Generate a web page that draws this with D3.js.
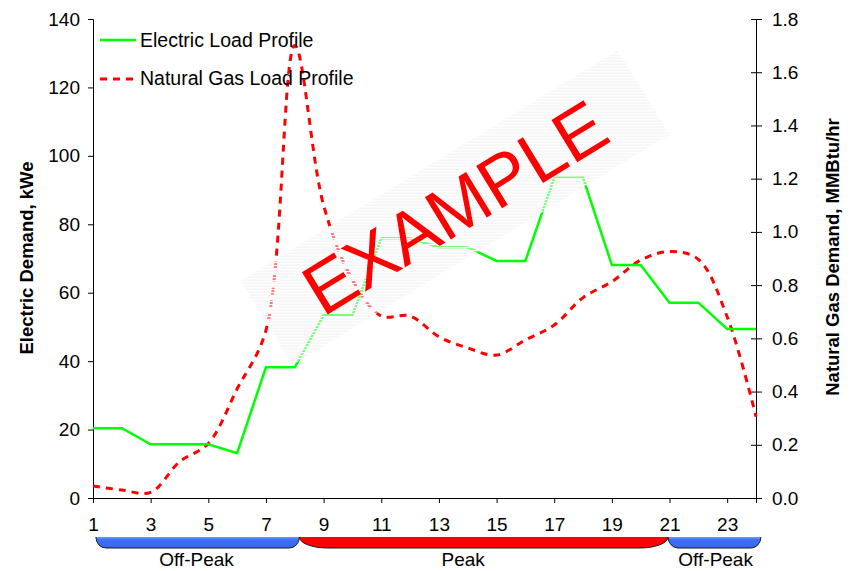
<!DOCTYPE html>
<html>
<head>
<meta charset="UTF-8">
<script src="https://d3js.org/d3.v7.min.js"></script>
<style>
  body { margin: 0; background: #fff; }
  text { font-family: "Liberation Sans", Arial, sans-serif; }
</style>
</head>
<body>
<svg id="canvas"></svg>
<script>
// data
hours = [1,2,3,4,5,6,7,8,9,10,11,12,13,14,15,16,17,18,19,20,21,22,23,24];
electric = [20.4,20.4,15.7,15.7,15.7,13.1,38.2,38.2,53.4,53.4,75.9,75.9,73.3,73.3,69.3,69.3,93.6,93.6,68.1,68.1,57.1,57.1,49.4,49.4];
gas = [0.045,0.030,0.021,0.136,0.205,0.41,0.63,1.70,1.10,0.82,0.684,0.684,0.606,0.564,0.537,0.594,0.65,0.753,0.813,0.894,0.926,0.897,0.681,0.306];

xTicks = [1,3,5,7,9,11,13,15,17,19,21,23];
leftTicks = [0,20,40,60,80,100,120,140];
rightTicks = [0,0.2,0.4,0.6,0.8,1.0,1.2,1.4,1.6,1.8];

periodNames = ["Off-Peak","Peak","Off-Peak"];
periodStart = [1.1, 8.16, 20.95];
periodEnd = [8.16, 20.95, 24.17];
periodLabelAt = [4.59, 13.84, 22.6];

seriesNames = ["Electric Load Profile","Natural Gas Load Profile"];

width = 852;
height = 571;
margin = {left:93, right:96, top:19, bottom:73};

svg = d3.select("#canvas")
    .attr("width", width)
    .attr("height", height);

x = d3.scaleLinear().domain([1,24]).range([margin.left, width - margin.right]);
yL = d3.scaleLinear().domain([0,140]).range([height - margin.bottom, margin.top]);
yR = d3.scaleLinear().domain([0,1.8]).range([height - margin.bottom, margin.top]);

fs = 19;

// axes
gx = svg.append("g")
    .attr("transform", "translate(0," + (height - margin.bottom) + ")")
    .call(d3.axisBottom(x).tickValues(xTicks).tickSizeOuter(0).tickSize(5).tickPadding(15).tickFormat(d3.format("d")));

gl = svg.append("g")
    .attr("transform", "translate(" + margin.left + ",0)")
    .call(d3.axisLeft(yL).tickValues(leftTicks).tickSizeOuter(0).tickSize(5).tickPadding(8).tickFormat(d3.format("d")));

gr = svg.append("g")
    .attr("transform", "translate(" + (width - margin.right) + ",0)")
    .call(d3.axisRight(yR).tickValues(rightTicks).tickSizeOuter(0).tickSize(6).tickPadding(10).tickFormat(d3.format(".1f")));
gr.selectAll(".tick line").attr("x1", -5);

[gx, gl, gr].forEach(g => {
    g.selectAll("text").attr("font-size", fs).attr("fill", "#000")
        .attr("font-family", "'Liberation Sans', Arial, sans-serif");
    g.selectAll("line, path").attr("stroke", "#000").attr("stroke-width", 1);
});

// axis titles
svg.append("text")
    .attr("transform", "translate(33,258) rotate(-90)")
    .attr("text-anchor", "middle")
    .attr("font-size", 18.5)
    .attr("font-weight", "bold")
    .text("Electric Demand, kWe");

svg.append("text")
    .attr("transform", "translate(839,257) rotate(-90)")
    .attr("text-anchor", "middle")
    .attr("font-size", 18.5)
    .attr("font-weight", "bold")
    .text("Natural Gas Demand, MMBtu/hr");

// lines
elecLine = d3.line()
    .x((d,i) => x(hours[i]))
    .y(d => yL(d));

gasLine = d3.line()
    .x((d,i) => x(hours[i]))
    .y(d => yR(d))
    .curve(d3.curveCatmullRom.alpha(0.5));

svg.append("path")
    .datum(gas)
    .attr("d", gasLine)
    .attr("fill", "none")
    .attr("stroke", "#ff0000")
    .attr("stroke-width", 3)
    .attr("stroke-dasharray", "7,6");

svg.append("path")
    .datum(electric)
    .attr("d", elecLine)
    .attr("fill", "none")
    .attr("stroke", "#00ff00")
    .attr("stroke-width", 2.5);

// legend
legend = svg.append("g");
legend.append("line")
    .attr("x1", 100).attr("x2", 136).attr("y1", 40).attr("y2", 40)
    .attr("stroke", "#00ff00").attr("stroke-width", 2.5);
legend.append("line")
    .attr("x1", 100).attr("x2", 136).attr("y1", 79).attr("y2", 79)
    .attr("stroke", "#ff0000").attr("stroke-width", 3).attr("stroke-dasharray", "7,6");
legend.selectAll("text")
    .data(seriesNames)
    .enter().append("text")
        .attr("x", 140)
        .attr("y", (d,i) => 47 + i*38)
        .attr("font-size", 19.5)
        .text(d => d);

// period bars under the x axis
defs = svg.append("defs");
blueGrad = defs.append("linearGradient").attr("id", "blueGrad").attr("x1", 0).attr("x2", 0).attr("y1", 0).attr("y2", 1);
blueGrad.append("stop").attr("offset", "0%").attr("stop-color", "#6f9bff");
blueGrad.append("stop").attr("offset", "25%").attr("stop-color", "#3f6ff5");
blueGrad.append("stop").attr("offset", "100%").attr("stop-color", "#3a66f0");

barTop = 537;
barBot = 548;

function barPath(x0, x1, rx, closed) {
    ry = barBot - barTop;
    p = "M" + x1 + "," + barTop
      + " A" + rx + "," + ry + " 0 0 1 " + (x1 - rx) + "," + barBot
      + " L" + (x0 + rx) + "," + barBot
      + " A" + rx + "," + ry + " 0 0 1 " + x0 + "," + barTop;
    return closed ? p + " Z" : p;
}

periods = svg.append("g");
periodNames.forEach((name, i) => {
    x0 = x(periodStart[i]);
    x1 = x(periodEnd[i]);
    rx = name == "Peak" ? 28 : 10;
    fill = name == "Peak" ? "#ff0000" : "url(#blueGrad)";
    periods.append("path")
        .attr("d", barPath(x0, x1, rx, true))
        .attr("fill", fill);
    periods.append("path")
        .attr("d", barPath(x0, x1, rx, false))
        .attr("fill", "none")
        .attr("stroke", "#1a1a1a")
        .attr("stroke-width", 1);
    periods.append("text")
        .attr("x", x(periodLabelAt[i]))
        .attr("y", 566)
        .attr("text-anchor", "middle")
        .attr("font-size", fs)
        .text(name);
});

// EXAMPLE watermark with striped band
stripes = defs.append("pattern")
    .attr("id", "stripes")
    .attr("patternUnits", "userSpaceOnUse")
    .attr("width", 10).attr("height", 3)
    .attr("patternTransform", "rotate(31.4)");
stripes.append("rect").attr("x", 0).attr("y", 0).attr("width", 10).attr("height", 1).attr("fill", "#f2f2f2");
stripes.append("rect").attr("x", 0).attr("y", 1).attr("width", 10).attr("height", 1).attr("fill", "#fcfcfc");

wm = svg.append("g")
    .attr("transform", "translate(455,207.5) rotate(-31.4)");
wm.append("rect")
    .attr("x", -221).attr("y", -49.5)
    .attr("width", 442).attr("height", 99)
    .attr("fill", "url(#stripes)");
wm.append("text")
    .attr("x", 0).attr("y", 25)
    .attr("text-anchor", "middle")
    .attr("font-size", 72)
    .attr("fill", "#ff0000")
    .text("EXAMPLE");
</script>
</body>
</html>
